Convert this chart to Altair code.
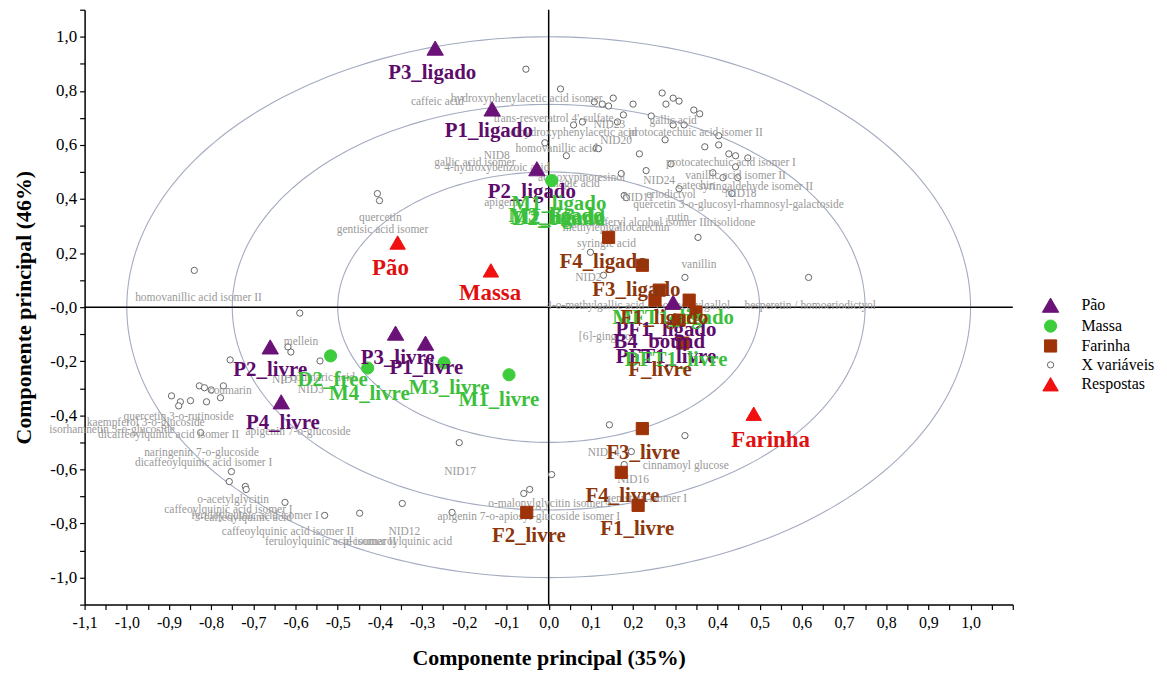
import altair as alt
import pandas as pd
import numpy as np

# ---------------- data ----------------
# X variables (small open circles)
var_x = [-0.054, 0.028, 0.108, 0.127, 0.142, 0.153, 0.200, 0.269, 0.295, 0.309, 0.278, 0.344, 0.358,
         0.177, 0.243, 0.059, 0.080, 0.163, 0.295, 0.321, 0.403, 0.276, 0.113, 0.370, 0.403, 0.427,
         0.443, 0.472, 0.042, 0.215, 0.290, 0.443, 0.231, 0.172, 0.389, 0.413, 0.448, 0.309, 0.434,
         0.179, 0.184, -0.009, 0.118, 0.354, -0.406, -0.401, 0.099, 0.323, 0.616, 0.130,
         -0.840, -0.590, -0.618, -0.611, -0.755, -0.542, -0.828, -0.816, -0.800, -0.771, -0.894,
         -0.873, -0.877, -0.849, -0.811, -0.778, -0.825, -0.752, -0.757, -0.719, -0.717, -0.625,
         -0.531, -0.448, -0.347, -0.229, -0.212, -0.059, -0.045, 0.007, 0.144, 0.323, 0.179, 0.196]
var_y = [0.880, 0.807, 0.759, 0.751, 0.744, 0.773, 0.751, 0.792, 0.773, 0.762, 0.751, 0.729, 0.715,
         0.711, 0.707, 0.674, 0.685, 0.685, 0.674, 0.674, 0.634, 0.619, 0.589, 0.593, 0.600, 0.567,
         0.560, 0.552, 0.560, 0.567, 0.530, 0.519, 0.505, 0.494, 0.497, 0.479, 0.479, 0.438, 0.420,
         0.413, 0.405, 0.608, 0.586, 0.258, 0.420, 0.394, 0.203, 0.110, 0.110, 0.118,
         0.136, -0.022, -0.147, -0.166, -0.195, -0.199, -0.291, -0.298, -0.306, -0.291, -0.328,
         -0.350, -0.365, -0.346, -0.350, -0.335, -0.464, -0.608, -0.645, -0.663, -0.674, -0.722,
         -0.770, -0.762, -0.726, -0.759, -0.501, -0.689, -0.674, -0.619, -0.435, -0.475, -0.582, -0.534]

# X variable names
var_names = ["caffeic acid", "hydroxyphenylacetic acid isomer", "trans-resveratrol 4'-sulfate",
             "dihydroxyphenylacetic acid", "gallic acid", "NID23", "protocatechuic acid isomer II",
             "NID20", "homovanillic acid", "gallic acid isomer", "NID8", "4-hydroxybenzoic acid",
             "acetoxypinoresinol", "ellagic acid", "catechin", "protocatechuic acid isomer I",
             "vanillic acid isomer II", "syringaldehyde isomer II", "NID24", "eriodictyol", "NID18",
             "quercetin 3-o-glucosyl-rhamnosyl-galactoside", "NID11", "rutin", "irisolidone",
             "coniferyl alcohol isomer II", "methylepigallocatechin", "apigenin", "quercetin",
             "gentisic acid isomer", "syringic acid", "vanillin", "NID2",
             "hesperetin / homoeriodictyol", "4-o-methylgallic acid / 4-o-methylgallol", "[6]-gingerol",
             "homovanillic acid isomer II", "mellein", "NID1", "p-coumaric acid", "NID3", "coumarin",
             "quercetin 3-o-rutinoside", "kaempferol 3-o-glucoside", "isorhamnetin 3-o-glucoside",
             "dicaffeoylquinic acid isomer II", "apigenin 7-o-glucoside", "naringenin 7-o-glucoside",
             "dicaffeoylquinic acid isomer I", "o-acetylglycitin", "caffeoylquinic acid isomer I",
             "feruloylquinic acid isomer I", "3-caffeoylquinic acid", "caffeoylquinic acid isomer II",
             "feruloylquinic acid isomer II", "p-coumaroylquinic acid", "NID12", "NID17",
             "cinnamoyl glucose", "NID16", "NID14", "o-malonylglycitin isomer I", "genistein isomer I",
             "apigenin 7-o-apiosyl-glucoside isomer I"]
var_name_x = [-0.264, -0.052, 0.012, 0.059, 0.295, 0.144, 0.349, 0.160, 0.019, -0.175, -0.123, -0.123,
              0.078, 0.059, 0.349, 0.432, 0.443, 0.491, 0.262, 0.290, 0.455, 0.450, 0.212, 0.307, 0.432,
              0.230, 0.160, -0.106, -0.399, -0.394, 0.137, 0.356, 0.094, 0.620, 0.212, 0.137,
              -0.830, -0.587, -0.625, -0.547, -0.564, -0.755, -0.877, -0.955, -1.035, -0.901, -0.594,
              -0.823, -0.818, -0.748, -0.759, -0.696, -0.724, -0.618, -0.517, -0.358, -0.342, -0.210,
              0.325, 0.200, 0.130, 0.002, 0.231, -0.047]
var_name_y = [0.759, 0.770, 0.696, 0.645, 0.689, 0.674, 0.645, 0.615, 0.586, 0.534, 0.560, 0.516,
              0.479, 0.457, 0.449, 0.534, 0.486, 0.446, 0.468, 0.413, 0.420, 0.376, 0.405, 0.331, 0.313,
              0.313, 0.291, 0.387, 0.331, 0.287, 0.232, 0.155, 0.107, 0.004, 0.004, -0.110,
              0.033, -0.129, -0.269, -0.262, -0.306, -0.309, -0.405, -0.427, -0.453, -0.471, -0.460,
              -0.538, -0.575, -0.715, -0.751, -0.773, -0.781, -0.832, -0.869, -0.869, -0.832, -0.611,
              -0.586, -0.641, -0.538, -0.729, -0.711, -0.777]

# Samples: Pão (triangles), Massa (circles), Farinha (squares)
pao_x = [-0.269, -0.134, -0.028, -0.363, -0.292, -0.660, -0.634, 0.295]
pao_y = [0.958, 0.733, 0.512, -0.096, -0.133, -0.147, -0.350, 0.018]
massa_x = [0.007, -0.517, -0.429, -0.248, -0.094, 0.302]
massa_y = [0.468, -0.180, -0.225, -0.206, -0.250, -0.048]
farinha_x = [0.142, 0.222, 0.262, 0.252, 0.333, 0.349, 0.309, 0.318, 0.222, 0.172, 0.212, -0.052]
farinha_y = [0.258, 0.155, 0.063, 0.026, 0.026, -0.018, -0.048, -0.133, -0.449, -0.611, -0.733, -0.759]
# Responses (red triangles)
resp_names = ["Pão", "Massa", "Farinha"]
resp_x = [-0.358, -0.137, 0.486]
resp_y = [0.239, 0.136, -0.394]
resp_label_x = [-0.375, -0.139, 0.526]
resp_label_y = [0.144, 0.052, -0.490]

# Sample labels
lab_text = ["P3_ligado", "P1_ligado", "P2_ligado", "P3_livre", "P1_livre", "P2_livre", "P4_livre",
            "PF1_ligado", "B4_bound", "PFT1_livre",
            "M1_ligado", "M2_ligado", "M3_ligado", "D2_bound", "D2_free", "M4_livre", "M3_livre",
            "M1_livre", "MFT1_ligado", "DFT1_livre",
            "F4_ligado", "F3_ligado", "F1_ligado", "F_livre", "F3_livre", "F4_livre", "F1_livre",
            "F2_livre"]
lab_x = [-0.276, -0.142, -0.040, -0.358, -0.290, -0.660, -0.630, 0.278, 0.262, 0.278,
         0.024, 0.021, 0.017, 0.024, -0.512, -0.425, -0.236, -0.118, 0.295, 0.302,
         0.130, 0.208, 0.274, 0.264, 0.224, 0.175, 0.210, -0.047]
lab_y = [0.866, 0.652, 0.424, -0.188, -0.225, -0.232, -0.427, -0.085, -0.129, -0.184,
         0.383, 0.331, 0.338, 0.326, -0.269, -0.320, -0.298, -0.343, -0.041, -0.195,
         0.166, 0.063, -0.041, -0.232, -0.538, -0.700, -0.821, -0.847]
lab_group = ["Pão"] * 10 + ["Massa"] * 10 + ["Farinha"] * 8

# axis tick positions and their labels ('n' marks a negative tick value)
x_ticks = [round(-1.1 + 0.05 * i, 2) for i in range(45)]
y_ticks = [round(-1.1 + 0.1 * i, 2) for i in range(23)]
y_tick_labels = {"1.0": "1,0", "0.8": "0,8", "0.6": "0,6", "0.4": "0,4", "0.2": "0,2", "0.0": "-0,0",
                 "n0.2": "-0,2", "n0.4": "-0,4", "n0.6": "-0,6", "n0.8": "-0,8", "n1.0": "-1,0"}

# ---------------- styling ----------------
legend_domain = ["Pão", "Massa", "Farinha", "X variáveis", "Respostas"]
fill_range = ["#6b1279", "#3ccc3c", "#9e3309", "#ffffff", "#f01010"]
stroke_range = ["#6b1279", "#3ccc3c", "#9e3309", "#666666", "#f01010"]
shape_range = ["triangle-up", "circle", "square", "circle", "triangle-up"]
size_range = [270, 150, 150, 40, 240]
text_colors = {"Pão": "#5e0b6c", "Massa": "#3cc03c", "Farinha": "#8c360c", "Respostas": "#e01010"}
SERIF = "Liberation Serif"

vars_df = pd.DataFrame({"x": var_x, "y": var_y, "grp": "X variáveis"})
samples_df = pd.concat([
    pd.DataFrame({"x": pao_x, "y": pao_y, "grp": "Pão"}),
    pd.DataFrame({"x": massa_x, "y": massa_y, "grp": "Massa"}),
    pd.DataFrame({"x": farinha_x, "y": farinha_y, "grp": "Farinha"}),
    pd.DataFrame({"x": resp_x, "y": resp_y, "grp": "Respostas"}),
], ignore_index=True)

varlab_df = pd.DataFrame({"x": var_name_x, "y": var_name_y, "t": var_names})
lab_df = pd.DataFrame({"x": lab_x, "y": lab_y, "t": lab_text, "g": lab_group})
lab_df["c"] = lab_df["g"].map(text_colors)
resp_lab_df = pd.DataFrame({"x": resp_label_x, "y": resp_label_y, "t": resp_names})

# reference circles (correlation circles r = 0.5, 0.75, 1.0)
radii = [0.5, 0.75, 1.0]
th = np.linspace(0, 2 * np.pi, 241)
circ_df = pd.concat([
    pd.DataFrame({"x": r * np.cos(th), "y": r * np.sin(th), "r": r, "i": np.arange(len(th))})
    for r in radii], ignore_index=True)

x_scale = alt.Scale(domain=[-1.1, 1.1], nice=False, zero=False)
y_scale = alt.Scale(domain=[-1.1, 1.1], nice=False, zero=False)

y_label_js = "{" + ", ".join(f"'{k}': '{v}'" for k, v in y_tick_labels.items()) + "}"

x_axis = alt.Axis(values=x_ticks, title="Componente principal  (35%)", labelOverlap=False, labelFlush=False,
                  labelExpr="abs(round(datum.value*10) - datum.value*10) < 0.01 && datum.value < 1.05 ? "
                            "(datum.value < -0.001 ? '-' : '') + replace(format(abs(datum.value), '.1f'), '.', ',') : ''",
                  tickSize=5, labelPadding=5, titlePadding=17, labelFontSize=16)
y_axis = alt.Axis(values=y_ticks, title="Componente principal  (46%)", labelOverlap=False, labelFlush=False,
                  labelExpr="(" + y_label_js + ")[(datum.value < -0.001 ? 'n' : '') + "
                            "format(abs(datum.value), '.1f')] || ''",
                  tickSize=5, labelPadding=3, titlePadding=14, labelFontSize=17)

base_x = alt.X("x:Q", scale=x_scale, axis=x_axis)
base_y = alt.Y("y:Q", scale=y_scale, axis=y_axis)

circles = alt.Chart(circ_df).mark_line(color="#a3abbf", strokeWidth=1.1).encode(
    x=base_x, y=base_y, detail="r:N", order="i:Q")

zero_v = alt.Chart(pd.DataFrame({"x": [0.0]})).mark_rule(color="black", strokeWidth=1.5).encode(x=base_x)
zero_h = alt.Chart(pd.DataFrame({"y": [0.0]})).mark_rule(color="black", strokeWidth=1.5).encode(y=base_y)

grp_enc = dict(
    shape=alt.Shape("grp:N", scale=alt.Scale(domain=legend_domain, range=shape_range),
                    legend=alt.Legend(title=None, orient="none", legendX=962, legendY=288)),
    fill=alt.Fill("grp:N", scale=alt.Scale(domain=legend_domain, range=fill_range)),
    stroke=alt.Stroke("grp:N", scale=alt.Scale(domain=legend_domain, range=stroke_range)),
    size=alt.Size("grp:N", scale=alt.Scale(type="ordinal", domain=legend_domain, range=size_range)),
)

var_pts = alt.Chart(vars_df).mark_point(filled=False, strokeWidth=1, opacity=1).encode(
    x=base_x, y=base_y, **grp_enc)

var_text = alt.Chart(varlab_df).mark_text(font=SERIF, fontSize=11.5, color="#999999").encode(
    x=base_x, y=base_y, text="t:N")

sample_pts = alt.Chart(samples_df).mark_point(filled=True, opacity=1, strokeWidth=1).encode(
    x=base_x, y=base_y, **grp_enc)

sample_text = alt.Chart(lab_df).mark_text(font=SERIF, fontSize=21, fontWeight="bold").encode(
    x=base_x, y=base_y, text="t:N", color=alt.Color("c:N", scale=None))

resp_text = alt.Chart(resp_lab_df).mark_text(font=SERIF, fontSize=23, fontWeight="bold",
                                             color=text_colors["Respostas"]).encode(
    x=base_x, y=base_y, text="t:N")

chart = alt.layer(circles, zero_v, zero_h, var_pts, var_text, sample_pts, sample_text, resp_text).properties(
    width=933, height=598,
    autosize=alt.AutoSizeParams(type="none"),
    padding={"left": 77, "top": 0, "right": 147, "bottom": 66},
).configure_view(stroke=None).configure_axis(
    domainColor="black", domainWidth=1.5, tickColor="black", tickWidth=1.2,
    grid=False, labelFont=SERIF, labelColor="black",
    titleFont=SERIF, titleFontSize=22, titleFontWeight="bold", titleColor="black",
).configure_legend(
    labelFont=SERIF, labelFontSize=16, labelColor="black", rowPadding=2,
    symbolStrokeWidth=1, labelOffset=22, padding=0,
)

chart.save("out.html", embed_options={"renderer": "svg", "actions": False})
